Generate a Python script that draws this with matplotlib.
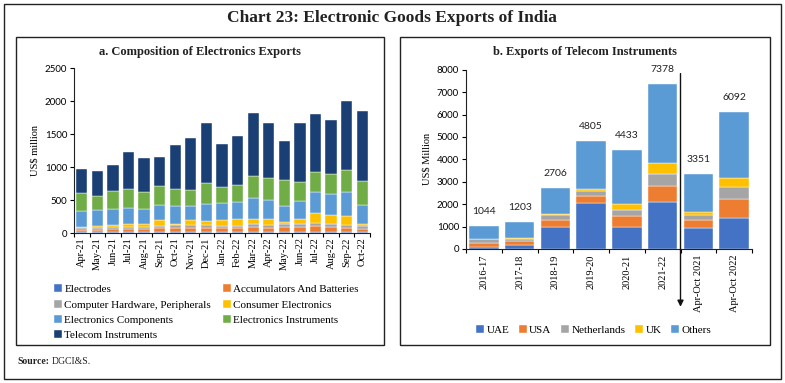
import matplotlib
matplotlib.use("Agg")
import matplotlib.pyplot as plt
import numpy as np
from matplotlib.patches import Rectangle

# ---------------- data: panel a ----------------
months = ["Apr-21", "May-21", "Jun-21", "Jul-21", "Aug-21", "Sep-21", "Oct-21", "Nov-21",
          "Dec-21", "Jan-22", "Feb-22", "Mar-22", "Apr-22", "May-22", "Jun-22", "Jul-22",
          "Aug-22", "Sep-22", "Oct-22"]
electrodes = [12, 10, 12, 12, 12, 15, 15, 15, 15, 15, 15, 15, 15, 15, 15, 15, 15, 15, 15]
accumulators = [35, 35, 45, 50, 50, 55, 65, 60, 60, 55, 55, 70, 65, 75, 75, 85, 75, 65, 50]
computer_hw = [28, 30, 30, 35, 35, 40, 40, 40, 45, 40, 40, 45, 45, 40, 40, 45, 45, 45, 45]
consumer_el = [16, 26, 40, 35, 35, 83, 22, 78, 57, 83, 108, 88, 83, 42, 78, 159, 144, 139, 32]
components = [239, 244, 238, 253, 238, 233, 264, 213, 264, 263, 248, 309, 294, 239, 284, 314, 314, 360, 284]
instruments = [283, 213, 269, 279, 254, 284, 258, 253, 325, 249, 269, 340, 329, 395, 289, 315, 304, 329, 370]
telecom = [355, 380, 400, 573, 517, 446, 674, 781, 907, 644, 740, 948, 842, 583, 887, 872, 822, 1050, 1055]

series_a = [
    ("Electrodes", electrodes, "#4472C4"),
    ("Accumulators And Batteries", accumulators, "#ED7D31"),
    ("Computer Hardware, Peripherals", computer_hw, "#A5A5A5"),
    ("Consumer Electronics", consumer_el, "#FFC000"),
    ("Electronics Components", components, "#5B9BD5"),
    ("Electronics Instruments", instruments, "#70AD47"),
    ("Telecom Instruments", telecom, "#1A3F74"),
]

# ---------------- data: panel b ----------------
periods = ["2016-17", "2017-18", "2018-19", "2019-20", "2020-21", "2021-22",
           "Apr-Oct 2021", "Apr-Oct 2022"]
totals_b = [1044, 1203, 2706, 4805, 4433, 7378, 3351, 6092]
uae = [105, 165, 1000, 2070, 980, 2110, 940, 1400]
usa = [180, 180, 310, 310, 505, 715, 370, 820]
netherlands = [150, 120, 195, 225, 255, 535, 195, 550]
uk = [10, 10, 35, 90, 280, 490, 165, 415]
others = [t - a - b - c - d for t, a, b, c, d in zip(totals_b, uae, usa, netherlands, uk)]

series_b = [
    ("UAE", uae, "#4472C4"),
    ("USA", usa, "#ED7D31"),
    ("Netherlands", netherlands, "#A5A5A5"),
    ("UK", uk, "#FFC000"),
    ("Others", others, "#5B9BD5"),
]

SERIF = ["Liberation Serif", "DejaVu Serif"]
SANS = ["Lato", "DejaVu Sans"]

W, H = 785, 383
fig = plt.figure(figsize=(W / 100, H / 100), dpi=100)

def fx(px):
    return px / W

def fy(py):
    return 1 - py / H

# outer border and panel boxes
fig.patches.append(Rectangle((fx(4), fy(379)), fx(777), (375) / H, transform=fig.transFigure,
                             fill=False, edgecolor="#222222", linewidth=1.0))
fig.patches.append(Rectangle((fx(16), fy(345)), fx(368), 308 / H, transform=fig.transFigure,
                             fill=False, edgecolor="#222222", linewidth=1.0))
fig.patches.append(Rectangle((fx(400), fy(345)), fx(370), 308 / H, transform=fig.transFigure,
                             fill=False, edgecolor="#222222", linewidth=1.0))

fig.text(fx(392), fy(18), "Chart 23: Electronic Goods Exports of India", ha="center", va="center",
         fontsize=12.5, fontweight="bold", family=SERIF, color="#222222")
fig.text(fx(200), fy(52), "a. Composition of Electronics Exports", ha="center", va="center",
         fontsize=9, fontweight="bold", family=SERIF, color="#222222")
fig.text(fx(585), fy(52), "b. Exports of Telecom Instruments", ha="center", va="center",
         fontsize=9, fontweight="bold", family=SERIF, color="#222222")
fig.text(fx(17), fy(362), "Source:", ha="left", va="center", fontsize=7, fontweight="bold",
         family=SERIF, color="#222222")
fig.text(fx(52), fy(362), "DGCI&S.", ha="left", va="center", fontsize=7, family=SERIF, color="#222222")

# ---------------- panel a ----------------
axa = fig.add_axes([fx(74), fy(233), fx(296), (233 - 68.3) / H])
x = np.arange(len(months))
bottom = np.zeros(len(months))
handles_a = []
for name, vals, col in series_a:
    v = np.array(vals, dtype=float)
    b = axa.bar(x, v, bottom=bottom, width=0.72, color=col, edgecolor="white", linewidth=0.3, label=name)
    handles_a.append(b)
    bottom += v
axa.set_xlim(-0.5, len(months) - 0.5)
axa.set_ylim(0, 2500)
axa.set_yticks(range(0, 2501, 500))
axa.set_xticks(x)
axa.set_xticklabels(months, rotation=90, family=SERIF, fontsize=7.5)
axa.tick_params(axis="x", length=0, pad=3)
axa.set_xticks(np.arange(-0.5, len(months), 1), minor=True)
axa.tick_params(axis="x", which="minor", length=3, width=0.8, direction="out")
axa.tick_params(axis="y", length=3, width=0.8, labelsize=7, pad=2)
for lab in axa.get_yticklabels():
    lab.set_family(SANS)
for s in ["top", "right"]:
    axa.spines[s].set_visible(False)
axa.spines["left"].set_color("#222222")
axa.spines["bottom"].set_color("#222222")
axa.set_ylabel("US$ million", family=SERIF, fontsize=7.5, labelpad=4)

# row-major legend order (matplotlib fills columns first)
order = [0, 2, 4, 6, 1, 3, 5]
fig.legend(handles=[handles_a[i] for i in order], labels=[series_a[i][0] for i in order],
           loc="upper left", bbox_to_anchor=(fx(50), fy(280)), ncol=2, frameon=False,
           prop={"family": SERIF, "size": 8}, handlelength=0.7, handleheight=0.7,
           handletextpad=0.2, columnspacing=1.1, labelspacing=0.5, borderaxespad=0)

# ---------------- panel b ----------------
axb = fig.add_axes([fx(466), fy(249), fx(286), (249 - 69.7) / H])
xb = np.arange(len(periods))
bottom = np.zeros(len(periods))
handles_b = []
for name, vals, col in series_b:
    v = np.array(vals, dtype=float)
    b = axb.bar(xb, v, bottom=bottom, width=0.83, color=col, edgecolor="white", linewidth=0.3, label=name)
    handles_b.append(b)
    bottom += v
for i, t in enumerate(totals_b):
    axb.text(xb[i], t + 450, f"{t}", ha="center", va="bottom", fontsize=7.5, family=SANS, color="#222222")
axb.set_xlim(-0.5, len(periods) - 0.5)
axb.set_ylim(0, 8000)
axb.set_yticks(range(0, 8001, 1000))
axb.set_xticks(xb)
axb.set_xticklabels(periods, rotation=90, family=SERIF, fontsize=7.5)
axb.tick_params(axis="x", length=0, pad=4)
axb.set_xticks(np.arange(-0.5, len(periods), 1), minor=True)
axb.tick_params(axis="x", which="minor", length=3, width=0.8, direction="out")
axb.tick_params(axis="y", length=3, width=0.8, labelsize=7, pad=2)
for lab in axb.get_yticklabels():
    lab.set_family(SANS)
for s in ["top", "right"]:
    axb.spines[s].set_visible(False)
axb.spines["left"].set_color("#222222")
axb.spines["bottom"].set_color("#222222")
axb.set_ylabel("US$ Million", family=SERIF, fontsize=7.5, labelpad=4)

# divider arrow between full years and partial periods
axb.annotate("", xy=(5.5, -2700), xytext=(5.5, 7950), xycoords="data", textcoords="data",
             arrowprops=dict(arrowstyle="-|>", color="#111111", lw=1.0, mutation_scale=9),
             annotation_clip=False)

fig.legend(handles=handles_b, labels=[s[0] for s in series_b], loc="center left",
           bbox_to_anchor=(fx(472), fy(330)), ncol=5, frameon=False,
           prop={"family": SERIF, "size": 8}, handlelength=0.7, handleheight=0.7,
           handletextpad=0.2, columnspacing=0.9, borderaxespad=0)

fig.savefig("out.png", dpi=100)
